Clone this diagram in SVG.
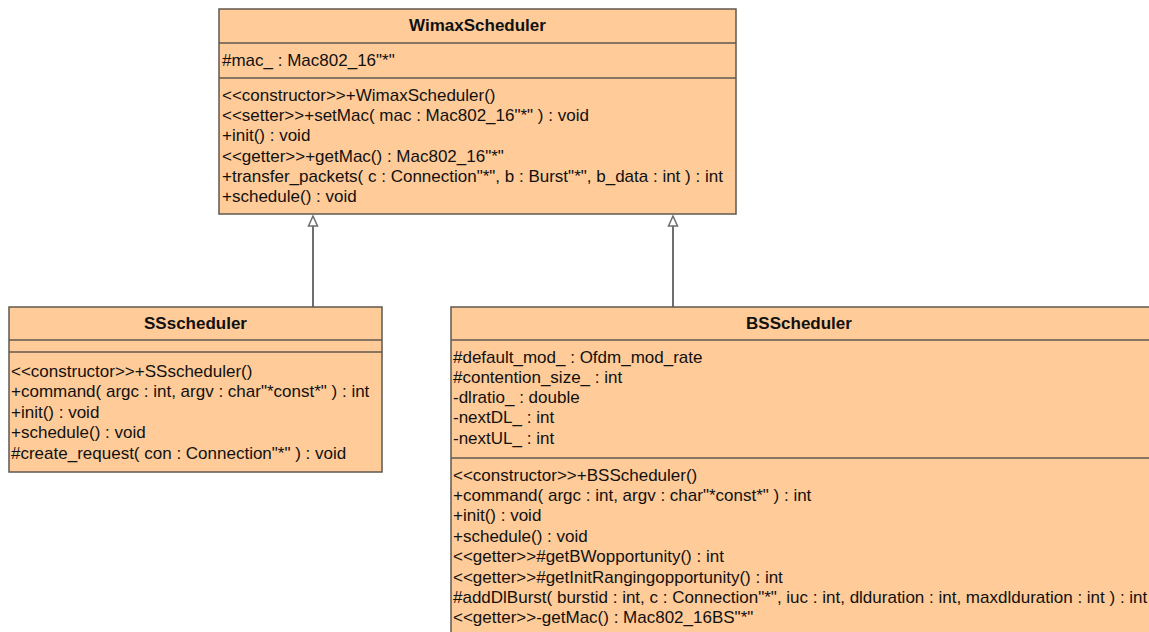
<svg xmlns="http://www.w3.org/2000/svg" width="1149" height="632" viewBox="0 0 1149 632">
  <style>
    .box { fill: #ffcb98; stroke: #5f584f; stroke-width: 1.5; }
    .sep { stroke: #5f584f; stroke-width: 1.5; }
    .title { font-family: "Liberation Sans", Arial, sans-serif; font-size: 17px; font-weight: bold; fill: #111; text-anchor: middle; }
    .member { font-family: "Liberation Sans", Arial, sans-serif; font-size: 17px; fill: #111; }
    .edge { stroke: #6e6e6e; stroke-width: 2; fill: none; }
    .head { fill: #ffffff; stroke: #6e6e6e; stroke-width: 1.5; }
  </style>

  <rect width="1149" height="632" fill="#ffffff"/>

  <!-- generalization connectors -->
  <g id="connectors">
    <line class="edge" x1="313" y1="226" x2="313" y2="307"/>
    <polygon class="head" points="313,216 317.5,226 308.5,226"/>
    <line class="edge" x1="673" y1="226" x2="673" y2="307"/>
    <polygon class="head" points="673,216 677.5,226 668.5,226"/>
  </g>

  <!-- base class -->
  <g id="WimaxScheduler">
    <rect class="box" x="219" y="9" width="517" height="205"/>
    <line class="sep" x1="219" y1="43" x2="736" y2="43"/>
    <line class="sep" x1="219" y1="78" x2="736" y2="78"/>
    <text class="title" x="477.5" y="31">WimaxScheduler</text>
    <text class="member" x="222" y="65.5">#mac_ : Mac802_16"*"</text>
    <text class="member" x="222" y="101">&lt;&lt;constructor&gt;&gt;+WimaxScheduler()</text>
    <text class="member" x="222" y="121.2">&lt;&lt;setter&gt;&gt;+setMac( mac : Mac802_16"*" ) : void</text>
    <text class="member" x="222" y="141.4">+init() : void</text>
    <text class="member" x="222" y="161.6">&lt;&lt;getter&gt;&gt;+getMac() : Mac802_16"*"</text>
    <text class="member" x="222" y="181.8">+transfer_packets( c : Connection"*", b : Burst"*", b_data : int ) : int</text>
    <text class="member" x="222" y="202">+schedule() : void</text>
  </g>

  <!-- subscriber station scheduler -->
  <g id="SSscheduler">
    <rect class="box" x="9" y="307" width="373" height="165"/>
    <line class="sep" x1="9" y1="340" x2="382" y2="340"/>
    <line class="sep" x1="9" y1="352" x2="382" y2="352"/>
    <text class="title" x="195.5" y="329">SSscheduler</text>
    <text class="member" x="11" y="376.5">&lt;&lt;constructor&gt;&gt;+SSscheduler()</text>
    <text class="member" x="11" y="397">+command( argc : int, argv : char"*const*" ) : int</text>
    <text class="member" x="11" y="417.5">+init() : void</text>
    <text class="member" x="11" y="438">+schedule() : void</text>
    <text class="member" x="11" y="458.5">#create_request( con : Connection"*" ) : void</text>
  </g>

  <!-- base station scheduler -->
  <g id="BSScheduler">
    <rect class="box" x="451" y="307" width="710" height="340"/>
    <line class="sep" x1="451" y1="340" x2="1161" y2="340"/>
    <line class="sep" x1="451" y1="458" x2="1161" y2="458"/>
    <text class="title" x="799" y="329">BSScheduler</text>
    <text class="member" x="453" y="362.5">#default_mod_ : Ofdm_mod_rate</text>
    <text class="member" x="453" y="382.8">#contention_size_ : int</text>
    <text class="member" x="453" y="403.1">-dlratio_ : double</text>
    <text class="member" x="453" y="423.4">-nextDL_ : int</text>
    <text class="member" x="453" y="443.7">-nextUL_ : int</text>
    <text class="member" x="453" y="480.5">&lt;&lt;constructor&gt;&gt;+BSScheduler()</text>
    <text class="member" x="453" y="500.9">+command( argc : int, argv : char"*const*" ) : int</text>
    <text class="member" x="453" y="521.3">+init() : void</text>
    <text class="member" x="453" y="541.7">+schedule() : void</text>
    <text class="member" x="453" y="562.1">&lt;&lt;getter&gt;&gt;#getBWopportunity() : int</text>
    <text class="member" x="453" y="582.5">&lt;&lt;getter&gt;&gt;#getInitRangingopportunity() : int</text>
    <text class="member" x="453" y="602.9">#addDlBurst( burstid : int, c : Connection"*", iuc : int, dlduration : int, maxdlduration : int ) : int</text>
    <text class="member" x="453" y="623.3">&lt;&lt;getter&gt;&gt;-getMac() : Mac802_16BS"*"</text>
  </g>
</svg>
